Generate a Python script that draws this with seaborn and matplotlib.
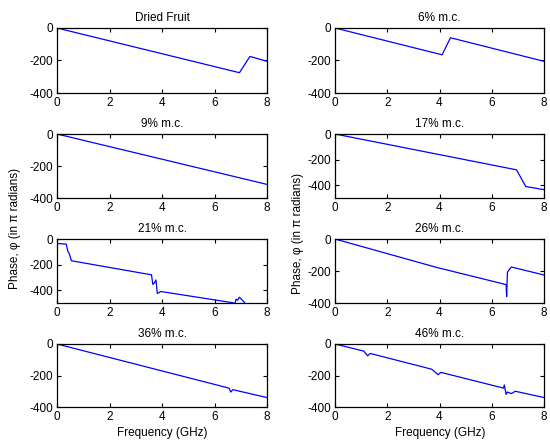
import matplotlib
matplotlib.use("Agg")
import matplotlib.pyplot as plt
import numpy as np
import pandas as pd
import seaborn as sns

# 各パネルのデータ
titles = ["Dried Fruit", "6% m.c.", "9% m.c.", "17% m.c.",
          "21% m.c.", "26% m.c.", "36% m.c.", "46% m.c."]

freq_dried = [0, 6.95, 7.35, 8]
phase_dried = [0, -275, -175, -205]

freq_6 = [0, 4.1, 4.42, 8]
phase_6 = [0, -165, -60, -205]

freq_9 = [0, 8]
phase_9 = [0, -315]

freq_17 = [0, 6.95, 7.3, 8]
phase_17 = [0, -280, -410, -435]

freq_21 = [0, 0.35, 0.42, 0.46, 0.55, 3.6, 3.65, 3.72, 3.77, 3.82, 3.88, 3.95,
           6.7, 6.78, 6.82, 6.88, 6.95, 7.05, 7.2, 8]
phase_21 = [-35, -40, -100, -110, -170, -280, -355, -340, -320, -425, -420, -410,
            -498, -505, -470, -478, -455, -475, -510, -590]

freq_26 = [0, 3.9, 6.55, 6.57, 6.6, 6.65, 6.75, 8]
phase_26 = [0, -178, -285, -360, -210, -195, -175, -225]

freq_36 = [0, 6.55, 6.62, 6.7, 8]
phase_36 = [0, -280, -305, -290, -340]

freq_46 = [0, 1.1, 1.25, 1.35, 3.7, 3.95, 4.05, 6.45, 6.48, 6.55, 6.6, 6.75, 6.9, 8]
phase_46 = [0, -45, -75, -60, -160, -195, -180, -280, -260, -320, -305, -315, -300, -340]

ylims = [(-400, 0), (-400, 0), (-400, 0), (-500, 0),
         (-500, 0), (-400, 0), (-400, 0), (-400, 0)]

series = [(freq_dried, phase_dried), (freq_6, phase_6), (freq_9, phase_9),
          (freq_17, phase_17), (freq_21, phase_21), (freq_26, phase_26),
          (freq_36, phase_36), (freq_46, phase_46)]

sns.set_theme(style="ticks")
plt.rcParams["font.family"] = ["Liberation Sans", "DejaVu Sans"]
plt.rcParams["font.size"] = 8.5
plt.rcParams["axes.unicode_minus"] = False
plt.rcParams["text.color"] = "black"
plt.rcParams["axes.labelcolor"] = "black"

W, H = 550, 444
fig = plt.figure(figsize=(W / 100, H / 100), dpi=100)

# 軸の位置（ピクセル）
cols = [(57, 267), (335, 544)]
rows = [(28, 93), (134, 198), (239, 303), (344, 407)]

for i, (title, (fx, py)) in enumerate(zip(titles, series)):
    r, c = divmod(i, 2)
    x0, x1 = cols[c]
    y0, y1 = rows[r]
    ax = fig.add_axes([x0 / W, 1 - y1 / H, (x1 - x0) / W, (y1 - y0) / H])
    df = pd.DataFrame({"freq": fx, "phase": py})
    sns.lineplot(data=df, x="freq", y="phase", ax=ax, color="#0000ff",
                 linewidth=0.9, sort=False, estimator=None)
    ax.set_xlim(0, 8)
    ax.set_ylim(*ylims[i])
    ax.set_xticks([0, 2, 4, 6, 8])
    ax.set_yticks([-400, -200, 0])
    ax.tick_params(direction="in", length=3, width=0.8, top=True, right=True,
                   labelsize=8.5, pad=3, colors="black")
    for s in ax.spines.values():
        s.set_visible(True)
        s.set_color("black")
        s.set_linewidth(0.9)
    ax.set_xlabel("")
    ax.set_ylabel("")
    ax.set_title(title, fontsize=8.5, pad=5, color="black")
    ax.set_facecolor("white")

# 共通ラベル
fig.text(15 / W, 1 - 228 / H, "Phase, φ (in π radians)", rotation=90,
         ha="center", va="center", fontsize=8.5)
fig.text(298 / W, 1 - 233 / H, "Phase, φ (in π radians)", rotation=90,
         ha="center", va="center", fontsize=8.5)
fig.text(162 / W, 1 - 433 / H, "Frequency (GHz)", ha="center", va="center", fontsize=8.5)
fig.text(440 / W, 1 - 433 / H, "Frequency (GHz)", ha="center", va="center", fontsize=8.5)

fig.savefig("out.png", dpi=100, facecolor="white")
